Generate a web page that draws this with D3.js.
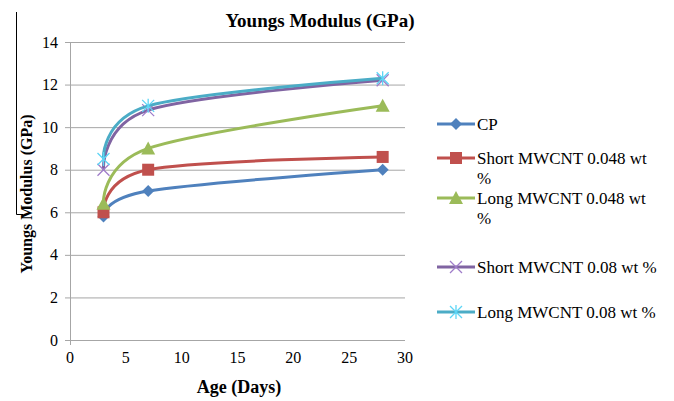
<!DOCTYPE html>
<html>
<head>
<meta charset="utf-8">
<script src="https://cdn.jsdelivr.net/npm/d3@7"></script>
<style>
  html, body { margin: 0; padding: 0; background: #fff; }
  svg { display: block; }
</style>
</head>
<body>
<svg id="chart" width="674" height="401"></svg>
<script>
// Curing age (days) at which the specimens were tested
const ages = [3, 7, 28];

// Young's modulus (GPa) for each mix
const seriesNames = [
  "CP",
  "Short MWCNT 0.048 wt %",
  "Long MWCNT 0.048 wt %",
  "Short MWCNT 0.08 wt %",
  "Long MWCNT 0.08 wt %"
];
const cpValues = [5.8, 7.0, 8.0];
const shortLowValues = [6.0, 8.0, 8.6];
const longLowValues = [6.4, 9.0, 11.0];
const shortHighValues = [8.0, 10.8, 12.2];
const longHighValues = [8.5, 11.0, 12.3];

// Axis ticks
const xTicks = [0, 5, 10, 15, 20, 25, 30];
const yTicks = [0, 2, 4, 6, 8, 10, 12, 14];

const seriesValues = [cpValues, shortLowValues, longLowValues, shortHighValues, longHighValues];
const colors = ["#4F81BD", "#C0504D", "#9BBB59", "#8064A2", "#4BACC6"];
const markerTypes = ["diamond", "square", "triangle", "cross", "asterisk"];
// legend text, split where the label wraps
const legendLines = [
  ["CP"],
  ["Short MWCNT 0.048 wt", "%"],
  ["Long MWCNT 0.048 wt", "%"],
  ["Short MWCNT 0.08 wt %"],
  ["Long MWCNT 0.08 wt %"]
];

const FONT = "'Liberation Serif', 'Times New Roman', Tinos, serif";

const svg = d3.select("#chart");
const plot = { left: 70, right: 405, top: 42, bottom: 340 };

const x = d3.scaleLinear().domain([0, 30]).range([plot.left, plot.right]);
const y = d3.scaleLinear().domain([0, 14]).range([plot.bottom, plot.top]);

// Gridlines with short outside ticks on the value axis
svg.append("g")
  .selectAll("line")
  .data(yTicks)
  .join("line")
  .attr("x1", plot.left - 5)
  .attr("x2", plot.right)
  .attr("y1", d => y(d) + 0.5)
  .attr("y2", d => y(d) + 0.5)
  .attr("stroke", "#a6a6a6")
  .attr("stroke-width", 1);

// Value axis line
svg.append("line")
  .attr("x1", plot.left + 0.5).attr("x2", plot.left + 0.5)
  .attr("y1", plot.top).attr("y2", plot.bottom + 5)
  .attr("stroke", "#a6a6a6");

// Tick labels
svg.append("g")
  .selectAll("text")
  .data(yTicks)
  .join("text")
  .attr("x", plot.left - 12)
  .attr("y", d => y(d))
  .attr("dy", "0.35em")
  .attr("text-anchor", "end")
  .attr("font-family", FONT)
  .attr("font-size", 16)
  .text(d => d);

svg.append("g")
  .selectAll("text")
  .data(xTicks)
  .join("text")
  .attr("x", d => x(d))
  .attr("y", plot.bottom + 23)
  .attr("text-anchor", "middle")
  .attr("font-family", FONT)
  .attr("font-size", 16)
  .text(d => d);

// Titles
svg.append("text")
  .attr("x", 320).attr("y", 27)
  .attr("text-anchor", "middle")
  .attr("font-family", FONT)
  .attr("font-size", 19).attr("font-weight", "bold")
  .text("Youngs Modulus (GPa)");

svg.append("text")
  .attr("x", 239).attr("y", 393)
  .attr("text-anchor", "middle")
  .attr("font-family", FONT)
  .attr("font-size", 18).attr("font-weight", "bold")
  .text("Age (Days)");

svg.append("text")
  .attr("transform", "translate(32,194) rotate(-90)")
  .attr("text-anchor", "middle")
  .attr("font-family", FONT)
  .attr("font-size", 16).attr("font-weight", "bold")
  .text("Youngs Modulus (GPa)");

// Text box outline left around the axis title
svg.append("path")
  .attr("d", "M16.5,12 V214.5 H23")
  .attr("fill", "none")
  .attr("stroke", "#000")
  .attr("stroke-width", 1);

// Marker drawing
function drawMarker(g, type, color) {
  if (type === "diamond") {
    g.append("path").attr("d", "M0,-6 L6,0 L0,6 L-6,0 Z").attr("fill", color);
  } else if (type === "square") {
    g.append("rect").attr("x", -6).attr("y", -6).attr("width", 12).attr("height", 12)
      .attr("fill", color);
  } else if (type === "triangle") {
    g.append("path").attr("d", "M0,-7 L7,6 L-7,6 Z").attr("fill", color);
  } else if (type === "cross") {
    g.append("path").attr("d", "M-6,-6 L6,6 M-6,6 L6,-6")
      .attr("stroke", color).attr("stroke-width", 1.3).attr("fill", "none");
  } else if (type === "asterisk") {
    g.append("path").attr("d", "M-6,-6 L6,6 M-6,6 L6,-6 M0,-7 L0,7")
      .attr("stroke", color).attr("stroke-width", 1.3).attr("fill", "none");
  }
}

function markerColor(i) {
  const t = markerTypes[i];
  return t === "cross" || t === "asterisk" ? d3.color(colors[i]).brighter(0.6).formatHex() : colors[i];
}

const line = d3.line()
  .x(d => x(d.age))
  .y(d => y(d.value))
  .curve(d3.curveCardinal.tension(0));

seriesValues.forEach((vals, i) => {
  const pts = ages.map((a, j) => ({ age: a, value: vals[j] }));
  const g = svg.append("g");
  g.append("path")
    .datum(pts)
    .attr("d", line)
    .attr("fill", "none")
    .attr("stroke", colors[i])
    .attr("stroke-width", 3)
    .attr("stroke-linejoin", "round");
  pts.forEach(p => {
    const m = g.append("g").attr("transform", `translate(${x(p.age)},${y(p.value)})`);
    drawMarker(m, markerTypes[i], markerColor(i));
  });
});

// Legend
const legendY = [124, 158, 198, 267, 312];
seriesNames.forEach((name, i) => {
  const g = svg.append("g").attr("transform", `translate(437,${legendY[i]})`);
  g.append("line").attr("x1", 0).attr("x2", 38).attr("y1", 0).attr("y2", 0)
    .attr("stroke", colors[i]).attr("stroke-width", 3);
  const m = g.append("g").attr("transform", "translate(19,0)");
  drawMarker(m, markerTypes[i], markerColor(i));
  legendLines[i].forEach((t, k) => {
    g.append("text")
      .attr("x", 40).attr("y", k * 20)
      .attr("dy", "0.35em")
      .attr("font-family", FONT)
      .attr("font-size", 17)
      .text(t);
  });
});
</script>
</body>
</html>
